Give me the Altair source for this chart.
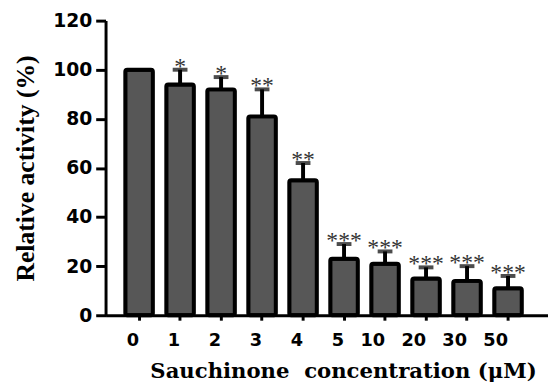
import altair as alt
import pandas as pd

conc = ["0", "1", "2", "3", "4", "5", "10", "20", "30", "50"]
activity = [100, 94, 92, 81, 55, 23, 21, 15, 14, 11]
upper = [100, 100, 97, 92, 62, 29, 26, 19.5, 20, 16]
stars = ["", "*", "*", "**", "**", "***", "***", "***", "***", "***"]

df = pd.DataFrame({"conc": conc, "activity": activity, "upper": upper, "stars": stars})
err = df[df["stars"] != ""]

xscale = alt.Scale(domain=conc, paddingInner=0.327, paddingOuter=0.56, align=0.43)
yscale = alt.Scale(domain=[0, 120])

x = alt.X("conc:N", scale=xscale, sort=conc,
          axis=alt.Axis(title="Sauchinone\u00a0\u00a0concentration\u00a0(\u03bcM)",
                        labelAngle=0, labelFont="DejaVu Sans", labelFontWeight="bold",
                        labelFontSize=18, labelColor="black", labelPadding=21,
                        tickSize=5, tickWidth=3, tickColor="black",
                        domainWidth=3, domainColor="black",
                        titleFont="DejaVu Serif", titleFontWeight="bold", titleFontSize=21.5,
                        titleColor="black", titleX=241, titleY=63,
                        titleBaseline="alphabetic", titleAlign="center"))

y = alt.Y("activity:Q", scale=yscale,
          axis=alt.Axis(title="Relative activity (%)", values=[0, 20, 40, 60, 80, 100, 120],
                        grid=False, labelFont="DejaVu Sans", labelFontWeight="bold",
                        labelFontSize=19, labelColor="black", labelPadding=4,
                        tickSize=10, tickWidth=3, tickColor="black",
                        domainWidth=3, domainColor="black",
                        titleFont="Liberation Serif", titleFontWeight="bold",
                        titleFontSize=26, titleColor="black", titleX=-81, titleY=149.5,
                        titleBaseline="middle", titleAngle=-90, titleAlign="center"))

rules = alt.Chart(err).mark_rule(color="black", strokeWidth=4).encode(
    x=alt.X("conc:N", scale=xscale, sort=conc),
    y=alt.Y("activity:Q", scale=yscale),
    y2="upper:Q")

bars = alt.Chart(df).mark_bar(fill="#575757", stroke="black", strokeWidth=4,
                              cornerRadius=2).encode(x=x, y=y)

caps = alt.Chart(err).mark_tick(color="black", thickness=4, size=15, orient="horizontal").encode(
    x=alt.X("conc:N", scale=xscale, sort=conc),
    y=alt.Y("upper:Q", scale=yscale))

text = alt.Chart(err).mark_text(font="Liberation Serif", fontSize=24, color="#333333",
                                baseline="alphabetic", dy=4).encode(
    x=alt.X("conc:N", scale=xscale, sort=conc),
    y=alt.Y("upper:Q", scale=yscale),
    text="stars:N")

chart = alt.layer(rules, bars, caps, text).properties(
    width=449, height=299,
    autosize=alt.AutoSizeParams(type="none"),
    padding={"left": 99, "top": 10, "right": 0, "bottom": 70},
).configure_view(strokeWidth=0)

chart.save("out.html", embed_options={"renderer": "svg", "actions": False})
